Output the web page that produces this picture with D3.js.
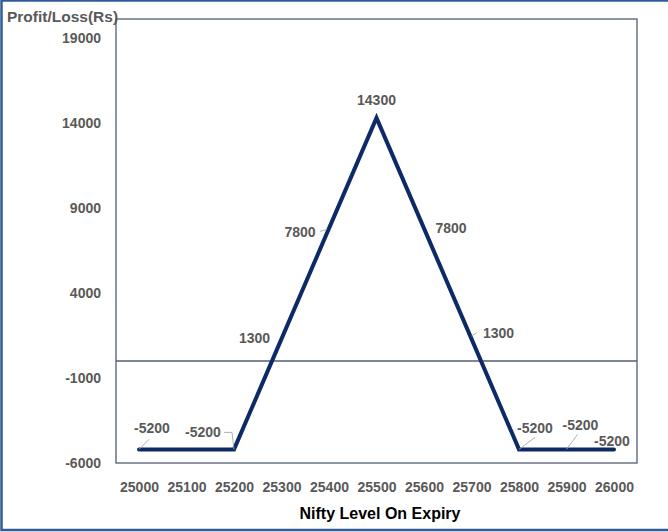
<!DOCTYPE html>
<html><head><meta charset="utf-8">
<script src="https://cdn.jsdelivr.net/npm/d3@7"></script>
<style>html,body{margin:0;padding:0;background:#fff;}svg{display:block;}</style>
</head><body>
<svg id="c" width="668" height="532"></svg>
<script>
const levels = [25000,25100,25200,25300,25400,25500,25600,25700,25800,25900,26000];
const pnl = [-5200,-5200,-5200,1300,7800,14300,7800,1300,-5200,-5200,-5200];
const yTicks = [-6000,-1000,4000,9000,14000,19000];
const xTicks = levels;
const showLabel = [true,false,true,true,true,true,true,true,true,true,true];
// label offsets (dx, dy) from point and leader lines (list of offsets from point)
const labelOffsets = [[13,-21],[0,0],[-31,-17],[-27,-1],[-29,4],[0,-18],[27,0],[27,-6],[16,-21],[14,-24],[-2,-8]];
const leaders = [[[0,0],[10,-10]],null,[[0,0],[-2,-17],[-10,-17]],null,[[-2,1],[-9,3]],null,null,[[0,-3],[5,-6]],[[0,0],[16,-12]],[[0,0],[11,-15]],null];

const svg = d3.select("#c");
const W=668,H=532;
const frame = {l:116, r:637, t:19, b:463};
const x = d3.scaleLinear().domain([25000,26000]).range([139,614]);
const y = d3.scaleLinear().domain([-6000,19000]).range([463,38]);
const gray = "#595959";
const font = "'Liberation Sans', Arial, sans-serif";
const fmt = d => String(d);

// outer border
svg.append("rect").attr("x",1.5).attr("y",0.5).attr("width",W+10).attr("height",529.5)
  .attr("fill","none").attr("stroke","#2f5c96").attr("stroke-width",2.5);

// plot frame
svg.append("rect").attr("x",frame.l).attr("y",frame.t).attr("width",frame.r-frame.l).attr("height",frame.b-frame.t)
  .attr("fill","none").attr("stroke","#525d75").attr("stroke-width",1.3);

// zero line
svg.append("line").attr("x1",frame.l).attr("x2",frame.r).attr("y1",y(0)).attr("y2",y(0))
  .attr("stroke","#525d75").attr("stroke-width",1.5);

// y axis labels
const yAxis = d3.axisLeft(y).tickValues(yTicks).tickSize(0).tickPadding(0).tickFormat(fmt);
const gy = svg.append("g").attr("transform","translate(101,0)").call(yAxis);
gy.select(".domain").remove();
gy.selectAll("text").attr("fill",gray).attr("font-family",font).attr("font-weight","bold").attr("font-size","14px").attr("dy","0.35em");

// x axis labels
const xAxis = d3.axisBottom(x).tickValues(xTicks).tickSize(0).tickPadding(0).tickFormat(fmt);
const gx = svg.append("g").attr("transform","translate(0,481)").call(xAxis);
gx.select(".domain").remove();
gx.selectAll("text").attr("fill",gray).attr("font-family",font).attr("font-weight","bold").attr("font-size","14px").attr("dy","0.35em").attr("y",6);

// titles
svg.append("text").attr("x",7).attr("y",22).text("Profit/Loss(Rs)")
  .attr("fill",gray).attr("font-family",font).attr("font-weight","bold").attr("font-size","15.5px");
svg.append("text").attr("x",380).attr("y",519).attr("text-anchor","middle").text("Nifty Level On Expiry")
  .attr("fill","#000").attr("font-family",font).attr("font-weight","bold").attr("font-size","16px");

// line
const data = levels.map((l,i)=>({l, v:pnl[i], i}));
svg.append("path").datum(data)
  .attr("d", d3.line().x(d=>x(d.l)).y(d=>y(d.v)))
  .attr("fill","none").attr("stroke","#0d2a67").attr("stroke-width",4).attr("stroke-linejoin","miter").attr("stroke-linecap","round");

// leaders
data.forEach(d=>{
  const ld = leaders[d.i];
  if(!ld) return;
  svg.append("path").attr("d", d3.line()(ld.map(o=>[x(d.l)+o[0], y(d.v)+o[1]])))
    .attr("fill","none").attr("stroke","#a6a6a6").attr("stroke-width",0.9);
});

// labels
svg.append("g").selectAll("text").data(data.filter(d=>showLabel[d.i])).join("text")
  .attr("x",d=>x(d.l)+labelOffsets[d.i][0])
  .attr("y",d=>y(d.v)+labelOffsets[d.i][1])
  .attr("dy","0.35em").attr("text-anchor","middle")
  .attr("fill",gray).attr("font-family",font).attr("font-weight","bold").attr("font-size","14px")
  .text(d=>fmt(d.v));
</script>
</body></html>
